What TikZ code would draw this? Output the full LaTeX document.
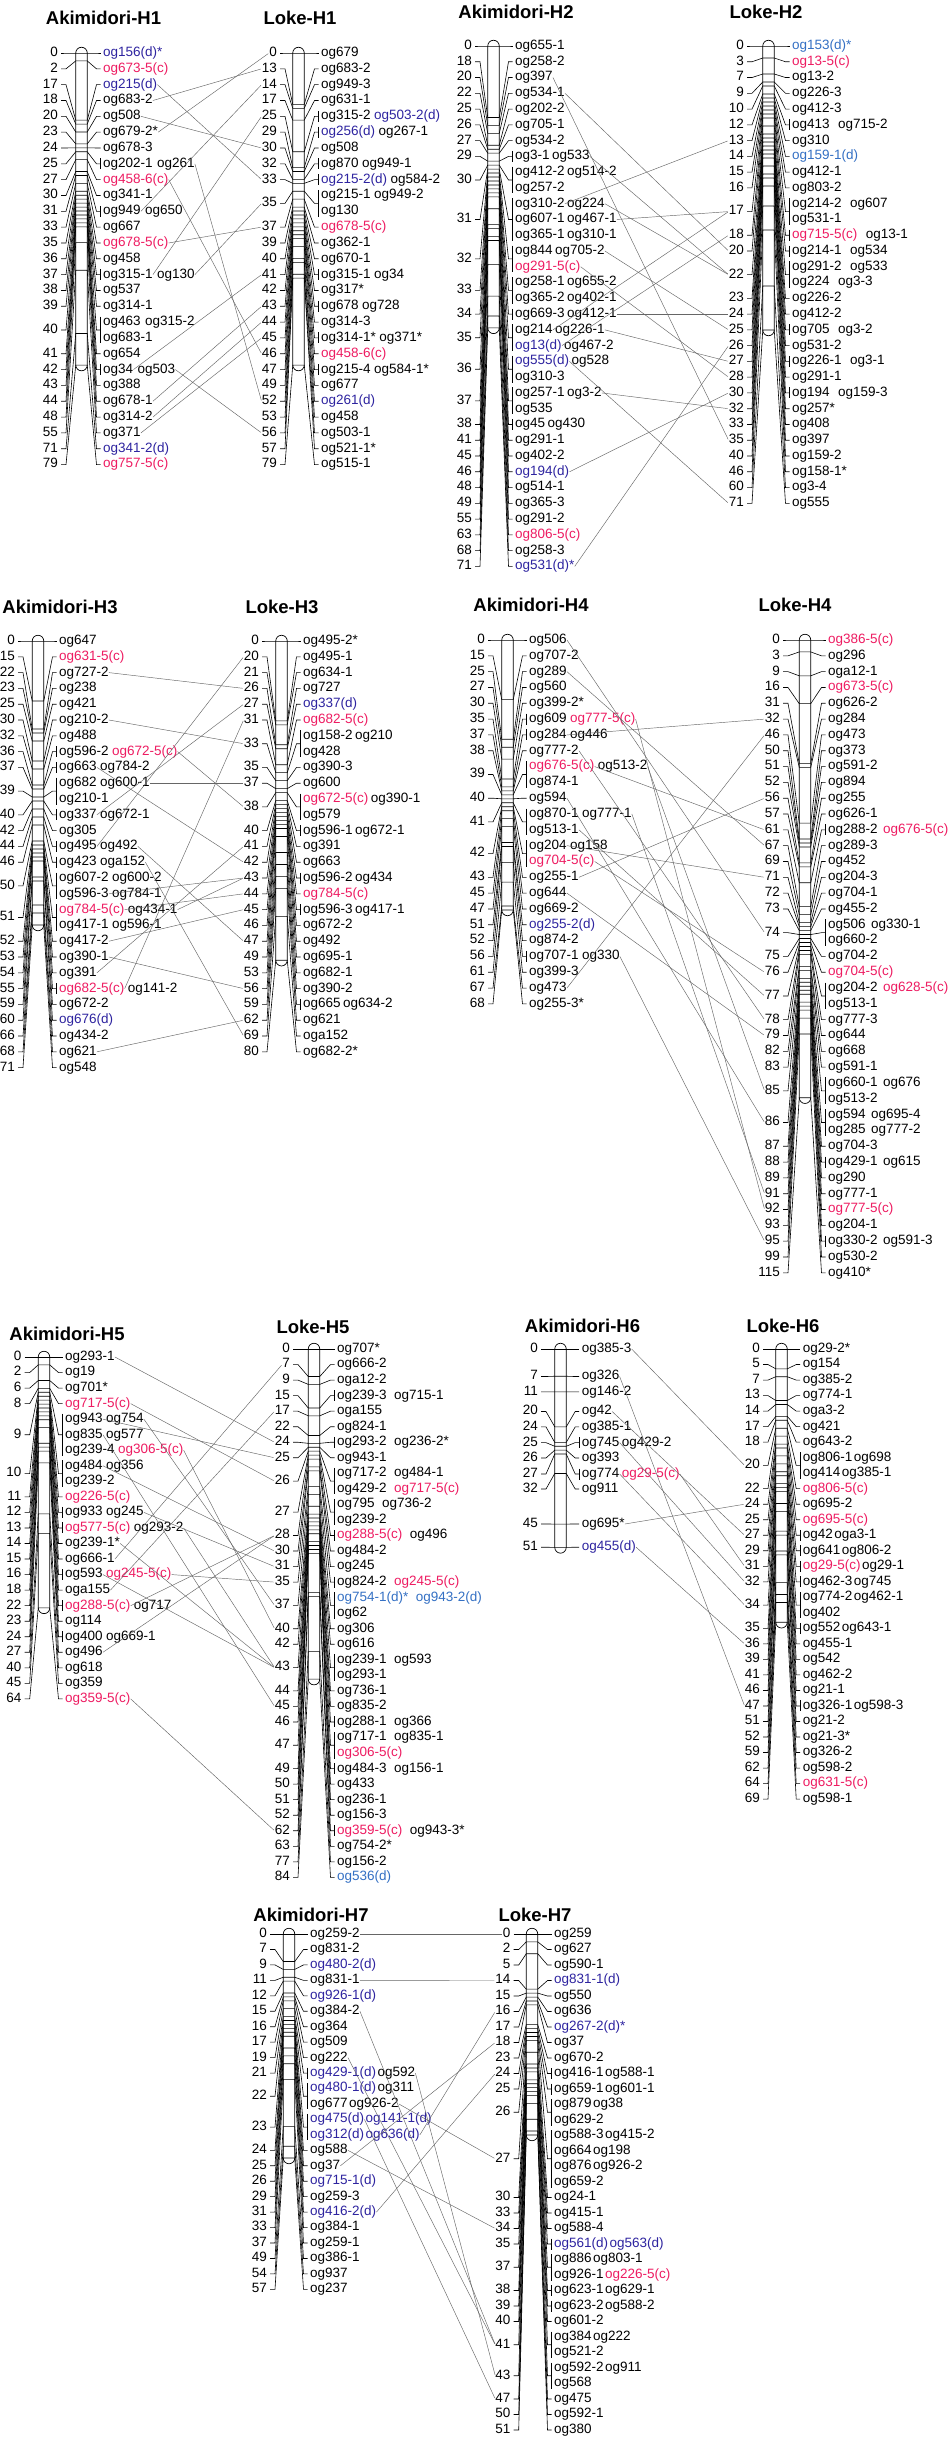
\documentclass[tikz,border=0pt]{standalone}
\usepackage{fontspec}
\setmainfont{Liberation Sans}
\usetikzlibrary{calc}
\definecolor{mc}{RGB}{238,28,98}
\definecolor{md}{RGB}{46,36,160}
\definecolor{ms}{RGB}{52,112,196}
\colorlet{mk}{black}
\tikzset{
  title/.style = {font=\fontsize{18.5}{20}\selectfont\bfseries, inner sep=0pt},
  cmnum/.style = {font=\fontsize{13.5}{15}\selectfont, anchor=east, inner sep=0pt, text height=9.6pt, text depth=2.8pt},
  mlabel/.style = {font=\fontsize{13.5}{15}\selectfont, anchor=west, inner sep=0pt, text height=9.6pt, text depth=2.8pt},
  fan/.style = {line width=0.6pt},
  chrbar/.style = {draw, line width=0.7pt, fill=white, rounded corners=5.75pt},
  link/.style = {line width=0.45pt, black!60, shorten >=1pt}
}
% chromosome: bar x, y of 0 cM, row step, px per cM, length, number x, label x, gap, prefix
\newcommand\setchr[9]{%
  \def\chx{#1}\def\chy{#2}\def\chs{#3}\def\chc{#4}\def\chn{#6}\def\chl{#7}\def\chg{#8}\def\pf{#9}%
  \draw[chrbar] (\chx-5.75,\chy-5.75) rectangle (\chx+5.75,\chy+#5*\chc+5.75);}
% locus: cM, first row, last row
\newcommand\grp[3]{%
  \pgfmathsetmacro\ty{\chy+#1*\chc}%
  \pgfmathsetmacro\ny{\chy+(#2+#3)/2*\chs}%
  \draw[fan] (\chn+3,\ny) -- (\chn+8,\ny) -- (\chx-5.75,\ty) -- (\chx+5.75,\ty) -- (\chl-6.5,\ny) -- (\chl-2.5,\ny);
  \node[cmnum] (\pf n#1) at (\chn,\ny) {#1};}
\newcommand\brk[2]{\draw[fan] (\chl-2.5,\chy+#1*\chs-5.5) -- (\chl-2.5,\chy+#2*\chs+5.5);}
\newcommand\lab[4]{\node[mlabel, text=#3] (\pf r#2) at (\chl,\chy+#1*\chs) {#4};}
\newcommand\labx[4]{\node[mlabel, text=#3] (\pf r#2) at ([xshift=\chg pt]\pf r#1.east) {#4};}
\newcommand\rone[3]{\lab{#1}{#1}{#2}{#3}}
\newcommand\rtwo[5]{\lab{#1}{#1}{#2}{#3}\labx{#1}{#1b}{#4}{#5}}
\newcommand\one[4]{\grp{#1}{#2}{#2}\rone{#2}{#3}{#4}}
\newcommand\two[6]{\grp{#1}{#2}{#2}\brk{#2}{#2}\rtwo{#2}{#3}{#4}{#5}{#6}}
\newcommand\many[3]{\grp{#1}{#2}{#3}\brk{#2}{#3}}

\begin{document}
\begin{tikzpicture}[x=1pt, y=-1pt]
  \fill[white] (0,0) rectangle (950,2439);
  \useasboundingbox (0,0) rectangle (950,2439);

  % Titles
  \node[title] (a1t) at (103.5,18) {Akimidori-H1};
  \node[title] (l1t) at (300,18) {Loke-H1};
  \node[title] (a2t) at (516,12) {Akimidori-H2};
  \node[title] (l2t) at (766,12) {Loke-H2};
  \node[title] (a3t) at (60,607) {Akimidori-H3};
  \node[title] (l3t) at (282,607) {Loke-H3};
  \node[title] (a4t) at (531,605) {Akimidori-H4};
  \node[title] (l4t) at (795,605) {Loke-H4};
  \node[title] (a5t) at (67,1334) {Akimidori-H5};
  \node[title] (l5t) at (313,1327) {Loke-H5};
  \node[title] (a6t) at (582.5,1326) {Akimidori-H6};
  \node[title] (l6t) at (783,1326) {Loke-H6};
  \node[title] (a7t) at (311,1915) {Akimidori-H7};
  \node[title] (l7t) at (535,1915) {Loke-H7};

  % Akimidori-H1
  \setchr{81.5}{53}{15.83}{3.95}{79}{58}{103}{4}{a1}
  \one{0}{0}{md}{og156(d)*}
  \one{2}{1}{mc}{og673-5(c)}
  \one{17}{2}{md}{og215(d)}
  \one{18}{3}{mk}{og683-2}
  \one{20}{4}{mk}{og508}
  \one{23}{5}{mk}{og679-2*}
  \one{24}{6}{mk}{og678-3}
  \two{25}{7}{mk}{og202-1}{mk}{og261}
  \one{27}{8}{mc}{og458-6(c)}
  \one{30}{9}{mk}{og341-1}
  \two{31}{10}{mk}{og949}{mk}{og650}
  \one{33}{11}{mk}{og667}
  \one{35}{12}{mc}{og678-5(c)}
  \one{36}{13}{mk}{og458}
  \two{37}{14}{mk}{og315-1}{mk}{og130}
  \one{38}{15}{mk}{og537}
  \one{39}{16}{mk}{og314-1}
  \many{40}{17}{18}\rtwo{17}{mk}{og463}{mk}{og315-2}\rone{18}{mk}{og683-1}
  \one{41}{19}{mk}{og654}
  \two{42}{20}{mk}{og34}{mk}{og503}
  \one{43}{21}{mk}{og388}
  \one{44}{22}{mk}{og678-1}
  \one{48}{23}{mk}{og314-2}
  \one{55}{24}{mk}{og371}
  \one{71}{25}{md}{og341-2(d)}
  \one{79}{26}{mc}{og757-5(c)}

  % Loke-H1
  \setchr{298.5}{53}{15.83}{3.95}{79}{277}{321}{3}{l1}
  \one{0}{0}{mk}{og679}
  \one{13}{1}{mk}{og683-2}
  \one{14}{2}{mk}{og949-3}
  \one{17}{3}{mk}{og631-1}
  \two{25}{4}{mk}{og315-2}{md}{og503-2(d)}
  \two{29}{5}{md}{og256(d)}{mk}{og267-1}
  \one{30}{6}{mk}{og508}
  \two{32}{7}{mk}{og870}{mk}{og949-1}
  \two{33}{8}{md}{og215-2(d)}{mk}{og584-2}
  \many{35}{9}{10}\rtwo{9}{mk}{og215-1}{mk}{og949-2}\rone{10}{mk}{og130}
  \one{37}{11}{mc}{og678-5(c)}
  \one{39}{12}{mk}{og362-1}
  \one{40}{13}{mk}{og670-1}
  \two{41}{14}{mk}{og315-1}{mk}{og34}
  \one{42}{15}{mk}{og317*}
  \two{43}{16}{mk}{og678}{mk}{og728}
  \one{44}{17}{mk}{og314-3}
  \two{45}{18}{mk}{og314-1*}{mk}{og371*}
  \one{46}{19}{mc}{og458-6(c)}
  \two{47}{20}{mk}{og215-4}{mk}{og584-1*}
  \one{49}{21}{mk}{og677}
  \one{52}{22}{md}{og261(d)}
  \one{53}{23}{mk}{og458}
  \one{56}{24}{mk}{og503-1}
  \one{57}{25}{mk}{og521-1*}
  \one{79}{26}{mk}{og515-1}

  % Akimidori-H2
  \setchr{493.5}{46}{15.77}{3.97}{71}{472}{515}{2}{a2}
  \one{0}{0}{mk}{og655-1}
  \one{18}{1}{mk}{og258-2}
  \one{20}{2}{mk}{og397}
  \one{22}{3}{mk}{og534-1}
  \one{25}{4}{mk}{og202-2}
  \one{26}{5}{mk}{og705-1}
  \one{27}{6}{mk}{og534-2}
  \two{29}{7}{mk}{og3-1}{mk}{og533}
  \many{30}{8}{9}\rtwo{8}{mk}{og412-2}{mk}{og514-2}\rone{9}{mk}{og257-2}
  \many{31}{10}{12}\rtwo{10}{mk}{og310-2}{mk}{og224}\rtwo{11}{mk}{og607-1}{mk}{og467-1}\rtwo{12}{mk}{og365-1}{mk}{og310-1}
  \many{32}{13}{14}\rtwo{13}{mk}{og844}{mk}{og705-2}\rone{14}{mc}{og291-5(c)}
  \many{33}{15}{16}\rtwo{15}{mk}{og258-1}{mk}{og655-2}\rtwo{16}{mk}{og365-2}{mk}{og402-1}
  \two{34}{17}{mk}{og669-3}{mk}{og412-1}
  \many{35}{18}{19}\rtwo{18}{mk}{og214}{mk}{og226-1}\rtwo{19}{md}{og13(d)}{mk}{og467-2}
  \many{36}{20}{21}\rtwo{20}{md}{og555(d)}{mk}{og528}\rone{21}{mk}{og310-3}
  \many{37}{22}{23}\rtwo{22}{mk}{og257-1}{mk}{og3-2}\rone{23}{mk}{og535}
  \two{38}{24}{mk}{og45}{mk}{og430}
  \one{41}{25}{mk}{og291-1}
  \one{45}{26}{mk}{og402-2}
  \one{46}{27}{md}{og194(d)}
  \one{48}{28}{mk}{og514-1}
  \one{49}{29}{mk}{og365-3}
  \one{55}{30}{mk}{og291-2}
  \one{63}{31}{mc}{og806-5(c)}
  \one{68}{32}{mk}{og258-3}
  \one{71}{33}{md}{og531(d)*}

  % Loke-H2
  \setchr{768.5}{46}{15.77}{4.0}{71}{744}{792}{8}{l2}
  \one{0}{0}{ms}{og153(d)*}
  \one{3}{1}{mc}{og13-5(c)}
  \one{7}{2}{mk}{og13-2}
  \one{9}{3}{mk}{og226-3}
  \one{10}{4}{mk}{og412-3}
  \two{12}{5}{mk}{og413}{mk}{og715-2}
  \one{13}{6}{mk}{og310}
  \one{14}{7}{ms}{og159-1(d)}
  \one{15}{8}{mk}{og412-1}
  \one{16}{9}{mk}{og803-2}
  \many{17}{10}{11}\rtwo{10}{mk}{og214-2}{mk}{og607}\rone{11}{mk}{og531-1}
  \two{18}{12}{mc}{og715-5(c)}{mk}{og13-1}
  \two{20}{13}{mk}{og214-1}{mk}{og534}
  \many{22}{14}{15}\rtwo{14}{mk}{og291-2}{mk}{og533}\rtwo{15}{mk}{og224}{mk}{og3-3}
  \one{23}{16}{mk}{og226-2}
  \one{24}{17}{mk}{og412-2}
  \two{25}{18}{mk}{og705}{mk}{og3-2}
  \one{26}{19}{mk}{og531-2}
  \two{27}{20}{mk}{og226-1}{mk}{og3-1}
  \one{28}{21}{mk}{og291-1}
  \two{30}{22}{mk}{og194}{mk}{og159-3}
  \one{32}{23}{mk}{og257*}
  \one{33}{24}{mk}{og408}
  \one{35}{25}{mk}{og397}
  \one{40}{26}{mk}{og159-2}
  \one{46}{27}{mk}{og158-1*}
  \one{60}{28}{mk}{og3-4}
  \one{71}{29}{mk}{og555}

  % Akimidori-H3
  \setchr{38}{641}{15.8}{4.0}{71}{15}{59}{3}{a3}
  \one{0}{0}{mk}{og647}
  \one{15}{1}{mc}{og631-5(c)}
  \one{22}{2}{mk}{og727-2}
  \one{23}{3}{mk}{og238}
  \one{25}{4}{mk}{og421}
  \one{30}{5}{mk}{og210-2}
  \one{32}{6}{mk}{og488}
  \two{36}{7}{mk}{og596-2}{mc}{og672-5(c)}
  \two{37}{8}{mk}{og663}{mk}{og784-2}
  \many{39}{9}{10}\rtwo{9}{mk}{og682}{mk}{og600-1}\rone{10}{mk}{og210-1}
  \two{40}{11}{mk}{og337}{mk}{og672-1}
  \one{42}{12}{mk}{og305}
  \two{44}{13}{mk}{og495}{mk}{og492}
  \two{46}{14}{mk}{og423}{mk}{oga152}
  \many{50}{15}{16}\rtwo{15}{mk}{og607-2}{mk}{og600-2}\rtwo{16}{mk}{og596-3}{mk}{og784-1}
  \many{51}{17}{18}\rtwo{17}{mc}{og784-5(c)}{mk}{og434-1}\rtwo{18}{mk}{og417-1}{mk}{og596-1}
  \one{52}{19}{mk}{og417-2}
  \one{53}{20}{mk}{og390-1}
  \one{54}{21}{mk}{og391}
  \two{55}{22}{mc}{og682-5(c)}{mk}{og141-2}
  \one{59}{23}{mk}{og672-2}
  \one{60}{24}{md}{og676(d)}
  \one{66}{25}{mk}{og434-2}
  \one{68}{26}{mk}{og621}
  \one{71}{27}{mk}{og548}

  % Loke-H3
  \setchr{281.5}{641}{15.8}{3.99}{80}{259}{303}{2}{l3}
  \one{0}{0}{mk}{og495-2*}
  \one{20}{1}{mk}{og495-1}
  \one{21}{2}{mk}{og634-1}
  \one{26}{3}{mk}{og727}
  \one{27}{4}{md}{og337(d)}
  \one{31}{5}{mc}{og682-5(c)}
  \many{33}{6}{7}\rtwo{6}{mk}{og158-2}{mk}{og210}\rone{7}{mk}{og428}
  \one{35}{8}{mk}{og390-3}
  \one{37}{9}{mk}{og600}
  \many{38}{10}{11}\rtwo{10}{mc}{og672-5(c)}{mk}{og390-1}\rone{11}{mk}{og579}
  \two{40}{12}{mk}{og596-1}{mk}{og672-1}
  \one{41}{13}{mk}{og391}
  \one{42}{14}{mk}{og663}
  \two{43}{15}{mk}{og596-2}{mk}{og434}
  \one{44}{16}{mc}{og784-5(c)}
  \two{45}{17}{mk}{og596-3}{mk}{og417-1}
  \one{46}{18}{mk}{og672-2}
  \one{47}{19}{mk}{og492}
  \one{49}{20}{mk}{og695-1}
  \one{53}{21}{mk}{og682-1}
  \one{56}{22}{mk}{og390-2}
  \two{59}{23}{mk}{og665}{mk}{og634-2}
  \one{62}{24}{mk}{og621}
  \one{69}{25}{mk}{oga152}
  \one{80}{26}{mk}{og682-2*}

  % Akimidori-H4
  \setchr{507.5}{640}{15.82}{3.97}{68}{485}{529}{3}{a4}
  \one{0}{0}{mk}{og506}
  \one{15}{1}{mk}{og707-2}
  \one{25}{2}{mk}{og289}
  \one{27}{3}{mk}{og560}
  \one{30}{4}{mk}{og399-2*}
  \two{35}{5}{mk}{og609}{mc}{og777-5(c)}
  \two{37}{6}{mk}{og284}{mk}{og446}
  \one{38}{7}{mk}{og777-2}
  \many{39}{8}{9}\rtwo{8}{mc}{og676-5(c)}{mk}{og513-2}\rone{9}{mk}{og874-1}
  \one{40}{10}{mk}{og594}
  \many{41}{11}{12}\rtwo{11}{mk}{og870-1}{mk}{og777-1}\rone{12}{mk}{og513-1}
  \many{42}{13}{14}\rtwo{13}{mk}{og204}{mk}{og158}\rone{14}{mc}{og704-5(c)}
  \one{43}{15}{mk}{og255-1}
  \one{45}{16}{mk}{og644}
  \one{47}{17}{mk}{og669-2}
  \one{51}{18}{md}{og255-2(d)}
  \one{52}{19}{mk}{og874-2}
  \two{56}{20}{mk}{og707-1}{mk}{og330}
  \one{61}{21}{mk}{og399-3}
  \one{67}{22}{mk}{og473}
  \one{68}{23}{mk}{og255-3*}

  % Loke-H4
  \setchr{805}{640}{15.82}{3.98}{115}{780}{828}{5}{l4}
  \one{0}{0}{mc}{og386-5(c)}
  \one{3}{1}{mk}{og296}
  \one{9}{2}{mk}{oga12-1}
  \one{16}{3}{mc}{og673-5(c)}
  \one{31}{4}{mk}{og626-2}
  \one{32}{5}{mk}{og284}
  \one{46}{6}{mk}{og473}
  \one{50}{7}{mk}{og373}
  \one{51}{8}{mk}{og591-2}
  \one{52}{9}{mk}{og894}
  \one{56}{10}{mk}{og255}
  \one{57}{11}{mk}{og626-1}
  \two{61}{12}{mk}{og288-2}{mc}{og676-5(c)}
  \one{67}{13}{mk}{og289-3}
  \one{69}{14}{mk}{og452}
  \one{71}{15}{mk}{og204-3}
  \one{72}{16}{mk}{og704-1}
  \one{73}{17}{mk}{og455-2}
  \many{74}{18}{19}\rtwo{18}{mk}{og506}{mk}{og330-1}\rone{19}{mk}{og660-2}
  \one{75}{20}{mk}{og704-2}
  \one{76}{21}{mc}{og704-5(c)}
  \many{77}{22}{23}\rtwo{22}{mk}{og204-2}{mc}{og628-5(c)}\rone{23}{mk}{og513-1}
  \one{78}{24}{mk}{og777-3}
  \one{79}{25}{mk}{og644}
  \one{82}{26}{mk}{og668}
  \one{83}{27}{mk}{og591-1}
  \many{85}{28}{29}\rtwo{28}{mk}{og660-1}{mk}{og676}\rone{29}{mk}{og513-2}
  \many{86}{30}{31}\rtwo{30}{mk}{og594}{mk}{og695-4}\rtwo{31}{mk}{og285}{mk}{og777-2}
  \one{87}{32}{mk}{og704-3}
  \two{88}{33}{mk}{og429-1}{mk}{og615}
  \one{89}{34}{mk}{og290}
  \one{91}{35}{mk}{og777-1}
  \one{92}{36}{mc}{og777-5(c)}
  \one{93}{37}{mk}{og204-1}
  \two{95}{38}{mk}{og330-2}{mk}{og591-3}
  \one{99}{39}{mk}{og530-2}
  \one{115}{40}{mk}{og410*}

  % Akimidori-H5
  \setchr{44}{1357}{15.54}{3.92}{64}{21.7}{65}{3}{a5}
  \one{0}{0}{mk}{og293-1}
  \one{2}{1}{mk}{og19}
  \one{6}{2}{mk}{og701*}
  \one{8}{3}{mc}{og717-5(c)}
  \many{9}{4}{6}\rtwo{4}{mk}{og943}{mk}{og754}\rtwo{5}{mk}{og835}{mk}{og577}\rtwo{6}{mk}{og239-4}{mc}{og306-5(c)}
  \many{10}{7}{8}\rtwo{7}{mk}{og484}{mk}{og356}\rone{8}{mk}{og239-2}
  \one{11}{9}{mc}{og226-5(c)}
  \two{12}{10}{mk}{og933}{mk}{og245}
  \two{13}{11}{mc}{og577-5(c)}{mk}{og293-2}
  \one{14}{12}{mk}{og239-1*}
  \one{15}{13}{mk}{og666-1}
  \two{16}{14}{mk}{og593}{mc}{og245-5(c)}
  \one{18}{15}{mk}{oga155}
  \two{22}{16}{mc}{og288-5(c)}{mk}{og717}
  \one{23}{17}{mk}{og114}
  \two{24}{18}{mk}{og400}{mk}{og669-1}
  \one{27}{19}{mk}{og496}
  \one{40}{20}{mk}{og618}
  \one{45}{21}{mk}{og359}
  \one{64}{22}{mc}{og359-5(c)}

  % Loke-H5
  \setchr{314}{1349}{15.54}{3.93}{84}{290}{337}{7}{l5}
  \one{0}{0}{mk}{og707*}
  \one{7}{1}{mk}{og666-2}
  \one{9}{2}{mk}{oga12-2}
  \two{15}{3}{mk}{og239-3}{mk}{og715-1}
  \one{17}{4}{mk}{oga155}
  \one{22}{5}{mk}{og824-1}
  \two{24}{6}{mk}{og293-2}{mk}{og236-2*}
  \one{25}{7}{mk}{og943-1}
  \many{26}{8}{9}\rtwo{8}{mk}{og717-2}{mk}{og484-1}\rtwo{9}{mk}{og429-2}{mc}{og717-5(c)}
  \many{27}{10}{11}\rtwo{10}{mk}{og795}{mk}{og736-2}\rone{11}{mk}{og239-2}
  \two{28}{12}{mc}{og288-5(c)}{mk}{og496}
  \one{30}{13}{mk}{og484-2}
  \one{31}{14}{mk}{og245}
  \two{35}{15}{mk}{og824-2}{mc}{og245-5(c)}
  \many{37}{16}{17}\rtwo{16}{ms}{og754-1(d)*}{ms}{og943-2(d)}\rone{17}{mk}{og62}
  \one{40}{18}{mk}{og306}
  \one{42}{19}{mk}{og616}
  \many{43}{20}{21}\rtwo{20}{mk}{og239-1}{mk}{og593}\rone{21}{mk}{og293-1}
  \one{44}{22}{mk}{og736-1}
  \one{45}{23}{mk}{og835-2}
  \two{46}{24}{mk}{og288-1}{mk}{og366}
  \many{47}{25}{26}\rtwo{25}{mk}{og717-1}{mk}{og835-1}\rone{26}{mc}{og306-5(c)}
  \two{49}{27}{mk}{og484-3}{mk}{og156-1}
  \one{50}{28}{mk}{og433}
  \one{51}{29}{mk}{og236-1}
  \one{52}{30}{mk}{og156-3}
  \two{62}{31}{mc}{og359-5(c)}{mk}{og943-3*}
  \one{63}{32}{mk}{og754-2*}
  \one{77}{33}{mk}{og156-2}
  \one{84}{34}{ms}{og536(d)}

  % Akimidori-H6 (labels at map positions)
  \setchr{560.5}{1349}{1}{3.89}{51}{538}{581.7}{2}{a6}
  \grp{0}{0}{0}\lab{0}{0}{mk}{og385-3}
  \grp{7}{27.5}{27.5}\lab{27.5}{7}{mk}{og326}
  \grp{11}{42.9}{42.9}\lab{42.9}{11}{mk}{og146-2}
  \grp{20}{62.5}{62.5}\lab{62.5}{20}{mk}{og42}
  \grp{24}{77.9}{77.9}\lab{77.9}{24}{mk}{og385-1}
  \grp{25}{93.6}{93.6}\brk{93.6}{93.6}\lab{93.6}{25}{mk}{og745}\labx{25}{25b}{mk}{og429-2}
  \grp{26}{109}{109}\lab{109}{26}{mk}{og393}
  \grp{27}{125}{125}\brk{125}{125}\lab{125}{27}{mk}{og774}\labx{27}{27b}{mc}{og29-5(c)}
  \grp{32}{140}{140}\lab{140}{32}{mk}{og911}
  \grp{45}{175}{175}\lab{175}{45}{mk}{og695*}
  \grp{51}{198.2}{198.2}\lab{198.2}{51}{md}{og455(d)}

  % Loke-H6
  \setchr{781.5}{1349}{15.52}{3.96}{69}{760}{802.7}{1}{l6}
  \one{0}{0}{mk}{og29-2*}
  \one{5}{1}{mk}{og154}
  \one{7}{2}{mk}{og385-2}
  \one{13}{3}{mk}{og774-1}
  \one{14}{4}{mk}{oga3-2}
  \one{17}{5}{mk}{og421}
  \one{18}{6}{mk}{og643-2}
  \many{20}{7}{8}\rtwo{7}{mk}{og806-1}{mk}{og698}\rtwo{8}{mk}{og414}{mk}{og385-1}
  \one{22}{9}{mc}{og806-5(c)}
  \one{24}{10}{mk}{og695-2}
  \one{25}{11}{mc}{og695-5(c)}
  \two{27}{12}{mk}{og42}{mk}{oga3-1}
  \two{29}{13}{mk}{og641}{mk}{og806-2}
  \two{31}{14}{mc}{og29-5(c)}{mk}{og29-1}
  \two{32}{15}{mk}{og462-3}{mk}{og745}
  \many{34}{16}{17}\rtwo{16}{mk}{og774-2}{mk}{og462-1}\rone{17}{mk}{og402}
  \two{35}{18}{mk}{og552}{mk}{og643-1}
  \one{36}{19}{mk}{og455-1}
  \one{39}{20}{mk}{og542}
  \one{41}{21}{mk}{og462-2}
  \one{46}{22}{mk}{og21-1}
  \two{47}{23}{mk}{og326-1}{mk}{og598-3}
  \one{51}{24}{mk}{og21-2}
  \one{52}{25}{mk}{og21-3*}
  \one{59}{26}{mk}{og326-2}
  \one{62}{27}{mk}{og598-2}
  \one{64}{28}{mc}{og631-5(c)}
  \one{69}{29}{mk}{og598-1}

  % Akimidori-H7
  \setchr{289}{1934}{15.45}{3.93}{57}{267}{310}{1}{a7}
  \one{0}{0}{mk}{og259-2}
  \one{7}{1}{mk}{og831-2}
  \one{9}{2}{md}{og480-2(d)}
  \one{11}{3}{mk}{og831-1}
  \one{12}{4}{md}{og926-1(d)}
  \one{15}{5}{mk}{og384-2}
  \one{16}{6}{mk}{og364}
  \one{17}{7}{mk}{og509}
  \one{19}{8}{mk}{og222}
  \two{21}{9}{md}{og429-1(d)}{mk}{og592}
  \many{22}{10}{11}\rtwo{10}{md}{og480-1(d)}{mk}{og311}\rtwo{11}{mk}{og677}{mk}{og926-2}
  \many{23}{12}{13}\rtwo{12}{md}{og475(d)}{md}{og141-1(d)}\rtwo{13}{md}{og312(d)}{md}{og636(d)}
  \one{24}{14}{mk}{og588}
  \one{25}{15}{mk}{og37}
  \one{26}{16}{md}{og715-1(d)}
  \one{29}{17}{mk}{og259-3}
  \one{31}{18}{md}{og416-2(d)}
  \one{33}{19}{mk}{og384-1}
  \one{37}{20}{mk}{og259-1}
  \one{49}{21}{mk}{og386-1}
  \one{54}{22}{mk}{og937}
  \one{57}{23}{mk}{og237}

  % Loke-H7
  \setchr{532}{1934}{15.5}{3.94}{51}{510.7}{554}{1}{l7}
  \one{0}{0}{mk}{og259}
  \one{2}{1}{mk}{og627}
  \one{5}{2}{mk}{og590-1}
  \one{14}{3}{md}{og831-1(d)}
  \one{15}{4}{mk}{og550}
  \one{16}{5}{mk}{og636}
  \one{17}{6}{md}{og267-2(d)*}
  \one{18}{7}{mk}{og37}
  \one{23}{8}{mk}{og670-2}
  \two{24}{9}{mk}{og416-1}{mk}{og588-1}
  \two{25}{10}{mk}{og659-1}{mk}{og601-1}
  \many{26}{11}{12}\rtwo{11}{mk}{og879}{mk}{og38}\rone{12}{mk}{og629-2}
  \many{27}{13}{16}\rtwo{13}{mk}{og588-3}{mk}{og415-2}\rtwo{14}{mk}{og664}{mk}{og198}\rtwo{15}{mk}{og876}{mk}{og926-2}\rone{16}{mk}{og659-2}
  \one{30}{17}{mk}{og24-1}
  \one{33}{18}{mk}{og415-1}
  \one{34}{19}{mk}{og588-4}
  \two{35}{20}{md}{og561(d)}{md}{og563(d)}
  \many{37}{21}{22}\rtwo{21}{mk}{og886}{mk}{og803-1}\rtwo{22}{mk}{og926-1}{mc}{og226-5(c)}
  \two{38}{23}{mk}{og623-1}{mk}{og629-1}
  \two{39}{24}{mk}{og623-2}{mk}{og588-2}
  \one{40}{25}{mk}{og601-2}
  \many{41}{26}{27}\rtwo{26}{mk}{og384}{mk}{og222}\rone{27}{mk}{og521-2}
  \many{43}{28}{29}\rtwo{28}{mk}{og592-2}{mk}{og911}\rone{29}{mk}{og568}
  \one{47}{30}{mk}{og475}
  \one{50}{31}{mk}{og592-1}
  \one{51}{32}{mk}{og380}

  % Connecting markers: H1
  \draw[link] (a1r2.east) -- (l1n33.west);
  \draw[link] (a1r3.east) -- (l1n13.west);
  \draw[link] (a1r4.east) -- (l1n30.west);
  \draw[link] (a1r5.east) -- (l1n0.west);
  \draw[link] (a1r7b.east) -- (l1n52.west);
  \draw[link] (a1r8.east) -- (l1n46.west);
  \draw[link] (a1r10.east) -- (l1n14.west);
  \draw[link] (a1r12.east) -- (l1n37.west);
  \draw[link] (a1r14.east) -- (l1n25.west);
  \draw[link] (a1r14b.east) -- (l1n35.west);
  \draw[link] (a1r20.east) -- (l1n41.west);
  \draw[link] (a1r20b.east) -- (l1n56.west);
  \draw[link] (a1r22.east) -- (l1n43.west);
  \draw[link] (a1r23.east) -- (l1n44.west);
  \draw[link] (a1r24.east) -- (l1n45.west);

  % H2
  \draw[link] (a2r2.east) -- (l2n35.west);
  \draw[link] (a2r3.east) -- (l2n20.west);
  \draw[link] (a2r7b.east) -- (l2n22.west);
  \draw[link] (a2r10.east) -- (l2n13.west);
  \draw[link] (a2r10b.east) -- (l2n22.west);
  \draw[link] (a2r11b.east) -- (l2n17.west);
  \draw[link] (a2r13b.east) -- (l2n25.west);
  \draw[link] (a2r14.east) -- (l2n28.west);
  \draw[link] (a2r17b.east) -- (l2n24.west);
  \draw[link] (a2r18.east) -- (l2n17.west);
  \draw[link] (a2r18b.east) -- (l2n27.west);
  \draw[link] (a2r19.east) -- (l2n18.west);
  \draw[link] (a2r20.east) -- (l2n71.west);
  \draw[link] (a2r22b.east) -- (l2n32.west);
  \draw[link] (a2r27.east) -- (l2n30.west);
  \draw[link] (a2r33.east) -- (l2n26.west);

  % H3
  \draw[link] (a3r2.east) -- (l3n26.west);
  \draw[link] (a3r5.east) -- (l3n33.west);
  \draw[link] (a3r7b.east) -- (l3n38.west);
  \draw[link] (a3r8.east) -- (l3n42.west);
  \draw[link] (a3r9b.east) -- (l3n37.west);
  \draw[link] (a3r11.east) -- (l3n27.west);
  \draw[link] (a3r13.east) -- (l3n20.west);
  \draw[link] (a3r13b.east) -- (l3n47.west);
  \draw[link] (a3r14b.east) -- (l3n69.west);
  \draw[link] (a3r16.east) -- (l3n43.west);
  \draw[link] (a3r17.east) -- (l3n44.west);
  \draw[link] (a3r17b.east) -- (l3n43.west);
  \draw[link] (a3r19.east) -- (l3n45.west);
  \draw[link] (a3r20.east) -- (l3n56.west);
  \draw[link] (a3r21.east) -- (l3n41.west);
  \draw[link] (a3r22.east) -- (l3n31.west);
  \draw[link] (a3r26.east) -- (l3n62.west);

  % H4
  \draw[link] (a4r0.east) -- (l4n74.west);
  \draw[link] (a4r2.east) -- (l4n67.west);
  \draw[link] (a4r5b.east) -- (l4n92.west);
  \draw[link] (a4r6.east) -- (l4n32.west);
  \draw[link] (a4r7.east) -- (l4n78.west);
  \draw[link] (a4r8.east) -- (l4n61.west);
  \draw[link] (a4r8b.east) -- (l4n85.west);
  \draw[link] (a4r10.east) -- (l4n86.west);
  \draw[link] (a4r11b.east) -- (l4n91.west);
  \draw[link] (a4r12.east) -- (l4n77.west);
  \draw[link] (a4r13.east) -- (l4n71.west);
  \draw[link] (a4r14.east) -- (l4n76.west);
  \draw[link] (a4r15.east) -- (l4n56.west);
  \draw[link] (a4r16.east) -- (l4n79.west);
  \draw[link] (a4r20b.east) -- (l4n95.west);
  \draw[link] (a4r22.east) -- (l4n46.west);

  % H5
  \draw[link] (a5r0.east) -- (l5n24.west);
  \draw[link] (a5r3.east) -- (l5n26.west);
  \draw[link] (a5r4.east) -- (l5n25.west);
  \draw[link] (a5r4b.east) -- (l5n37.west);
  \draw[link] (a5r5.east) -- (l5n45.west);
  \draw[link] (a5r6b.east) -- (l5n40.west);
  \draw[link] (a5r7.east) -- (l5n30.west);
  \draw[link] (a5r10b.east) -- (l5n31.west);
  \draw[link] (a5r11b.east) -- (l5n43.west);
  \draw[link] (a5r12.east) -- (l5n43.west);
  \draw[link] (a5r13.east) -- (l5n7.west);
  \draw[link] (a5r14.east) -- (l5n43.west);
  \draw[link] (a5r14b.east) -- (l5n35.west);
  \draw[link] (a5r15.east) -- (l5n17.west);
  \draw[link] (a5r16.east) -- (l5n28.west);
  \draw[link] (a5r19.east) -- (l5n28.west);
  \draw[link] (a5r22.east) -- (l5n62.west);

  % H6
  \draw[link] (a6r0.east) -- (l6n20.west);
  \draw[link] (a6r7.east) -- (l6n47.west);
  \draw[link] (a6r20.east) -- (l6n27.west);
  \draw[link] (a6r25.east) -- (l6n32.west);
  \draw[link] (a6r27.east) -- (l6n34.west);
  \draw[link] (a6r27b.east) -- (l6n31.west);
  \draw[link] (a6r45.east) -- (l6n24.west);
  \draw[link] (a6r51.east) -- (l6n36.west);

  % H7
  \draw[link] (a7r0.east) -- (l7n0.west);
  \draw[link] (a7r3.east) -- (l7n14.west);
  \draw[link] (a7r5.east) -- (l7n41.west);
  \draw[link] (a7r8.east) -- (l7n41.west);
  \draw[link] (a7r9b.east) -- (l7n43.west);
  \draw[link] (a7r11b.east) -- (l7n27.west);
  \draw[link] (a7r12.east) -- (l7n47.west);
  \draw[link] (a7r13b.east) -- (l7n16.west);
  \draw[link] (a7r14.east) -- (l7n34.west);
  \draw[link] (a7r15.east) -- (l7n18.west);
  \draw[link] (a7r18.east) -- (l7n24.west);
\end{tikzpicture}
\end{document}
